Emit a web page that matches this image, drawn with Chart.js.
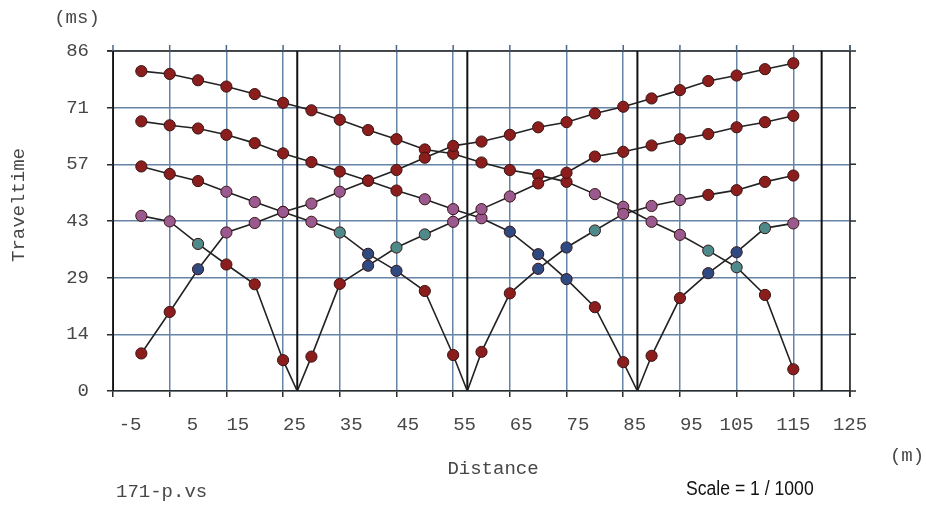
<!DOCTYPE html>
<html>
<head>
<meta charset="utf-8">
<title>171-p.vs traveltime curves</title>
<script src="https://cdn.jsdelivr.net/npm/chart.js@4.4.0/dist/chart.umd.min.js"></script>
<style>
  html, body { margin: 0; padding: 0; background: #ffffff; }
  canvas { display: block; }
</style>
</head>
<body>
<canvas id="chart" width="926" height="515"></canvas>
<script>
// Receiver offsets along the line (m)
const offsets = [0, 5, 10, 15, 20, 25, 30, 35, 40, 45, 50, 55, 60, 65, 70, 75, 80, 85, 90, 95, 100, 105, 110, 115];

// Shot positions (m)
const shotPositions = [-5, 27.5, 57.5, 87.5, 120];

// First-arrival traveltimes per shot (ms), one value per receiver
const timesShot1 = [9.5, 20.0, 30.8, 40.1, 42.5, 45.3, 47.4, 50.4, 53.2, 55.9, 59.0, 62.0, 63.1, 64.8, 66.7, 68.0, 70.2, 71.9, 74.0, 76.1, 78.4, 79.8, 81.4, 82.9];
const timesShot2 = [44.3, 42.9, 37.2, 32.0, 27.0, 7.8, 8.7, 27.1, 31.7, 36.3, 39.6, 42.8, 46.0, 49.2, 52.5, 55.2, 59.3, 60.5, 62.1, 63.7, 65.0, 66.7, 68.0, 69.6];
const timesShot3 = [56.8, 54.9, 53.1, 50.4, 47.8, 45.3, 42.8, 40.1, 34.7, 30.4, 25.3, 9.1, 9.9, 24.7, 30.9, 36.3, 40.6, 44.8, 46.8, 48.3, 49.6, 50.8, 52.9, 54.5];
const timesShot4 = [68.2, 67.2, 66.4, 64.8, 62.7, 60.1, 57.9, 55.5, 53.2, 50.7, 48.5, 46.0, 43.7, 40.3, 34.6, 28.3, 21.2, 7.3, 8.9, 23.5, 29.8, 35.1, 41.2, 42.4];
const timesShot5 = [80.9, 80.2, 78.6, 77.0, 75.1, 72.9, 71.0, 68.6, 66.0, 63.7, 61.1, 60.0, 57.8, 55.9, 54.6, 52.9, 49.8, 46.6, 42.8, 39.5, 35.5, 31.3, 24.3, 5.5];

// Refractor layer assigned to each arrival (0..3)
const layersShot1 = [0, 0, 3, 1, 1, 1, 1, 1, 0, 0, 0, 0, 0, 0, 0, 0, 0, 0, 0, 0, 0, 0, 0, 0];
const layersShot2 = [1, 1, 2, 0, 0, 0, 0, 0, 3, 2, 2, 1, 1, 1, 0, 0, 0, 0, 0, 0, 0, 0, 0, 0];
const layersShot3 = [0, 0, 0, 1, 1, 1, 1, 2, 3, 3, 0, 0, 0, 0, 3, 3, 2, 1, 1, 1, 0, 0, 0, 0];
const layersShot4 = [0, 0, 0, 0, 0, 0, 0, 0, 0, 0, 1, 1, 1, 3, 3, 3, 0, 0, 0, 0, 3, 3, 2, 1];
const layersShot5 = [0, 0, 0, 0, 0, 0, 0, 0, 0, 0, 0, 0, 0, 0, 0, 0, 1, 1, 1, 1, 2, 2, 0, 0];

// Axis ticks
const xTickValues = [-5, 5, 15, 25, 35, 45, 55, 65, 75, 85, 95, 105, 115, 125];
const xTickLabels = ['-5', '5', '15', '25', '35', '45', '55', '65', '75', '85', '95', '105', '115', '125'];
const yMax = 86;
const yTickLabels = ['0', '14', '29', '43', '57', '71', '86'];

const layerColors = ['#8c1d1d', '#9a5a8f', '#4e8a8a', '#2e4a80'];
const monoFont = '"Liberation Mono", "DejaVu Sans Mono", monospace';
const textGray = '#474747';

const allTimes = [timesShot1, timesShot2, timesShot3, timesShot4, timesShot5];
const allLayers = [layersShot1, layersShot2, layersShot3, layersShot4, layersShot5];

function buildCurve(k) {
  const pts = offsets.map((x, i) => ({ x: x, y: allTimes[k][i], layer: allLayers[k][i] }));
  const s = shotPositions[k];
  // shots inside the spread start the curve at zero time
  if (s > offsets[0] && s < offsets[offsets.length - 1]) {
    const idx = pts.findIndex(p => p.x > s);
    pts.splice(idx, 0, { x: s, y: 0, layer: null });
  }
  return pts;
}

const curveSets = shotPositions.map((s, k) => ({
  type: 'line',
  data: buildCurve(k),
  showLine: true,
  borderColor: '#222222',
  borderWidth: 1.6,
  tension: 0,
  pointRadius: c => (c.raw && c.raw.layer !== null ? 5.6 : 0),
  pointBackgroundColor: c => (c.raw && c.raw.layer !== null ? layerColors[c.raw.layer] : 'transparent'),
  pointBorderColor: '#3a1414',
  pointBorderWidth: 1,
  order: 1
}));

const shotMarkerSets = shotPositions.map(s => ({
  type: 'line',
  data: [{ x: s, y: 0 }, { x: s, y: yMax }],
  borderColor: '#111111',
  borderWidth: 2,
  pointRadius: 0,
  order: 5
}));

function padLabel(l) {
  if (l.length >= 3) return l;
  if (l.startsWith('-')) return '   ' + l;
  if (l.length === 1) return '    ' + l;
  return '  ' + l;
}

const framePlugin = {
  id: 'frame',
  beforeDatasetsDraw(chart) {
    const { ctx, chartArea: a, scales: { x, y } } = chart;
    ctx.save();
    ctx.strokeStyle = '#2b2b2b';
    ctx.lineWidth = 1.5;
    ctx.beginPath();
    ctx.moveTo(a.left - 6, a.top); ctx.lineTo(a.right + 6, a.top);
    ctx.moveTo(a.right, a.top - 6); ctx.lineTo(a.right, a.bottom + 6);
    ctx.moveTo(a.right, a.bottom); ctx.lineTo(a.right + 6, a.bottom);
    y.ticks.forEach(t => {
      const py = y.getPixelForValue(t.value);
      ctx.moveTo(a.right, py); ctx.lineTo(a.right + 6, py);
    });
    ctx.stroke();
    ctx.strokeStyle = '#4d6684';
    ctx.beginPath();
    x.ticks.forEach(t => {
      const px = x.getPixelForValue(t.value);
      ctx.moveTo(px, a.top - 6); ctx.lineTo(px, a.top);
    });
    ctx.stroke();
    ctx.restore();
  },
  afterDraw(chart) {
    const ctx = chart.ctx;
    ctx.save();
    ctx.fillStyle = textGray;
    ctx.font = '19px ' + monoFont;
    ctx.textBaseline = 'middle';
    ctx.textAlign = 'center';
    ctx.fillText('(ms)', 77, 18);
    ctx.fillText('Distance', 493, 469);
    ctx.fillText('(m)', 907, 456);
    ctx.textAlign = 'left';
    ctx.fillText('171-p.vs', 116, 492);
    ctx.save();
    ctx.translate(19, 205);
    ctx.rotate(-Math.PI / 2);
    ctx.textAlign = 'center';
    ctx.fillText('Traveltime', 0, 0);
    ctx.restore();
    // scale note in a condensed sans face
    ctx.fillStyle = '#111111';
    ctx.font = '20px "Liberation Sans Narrow", "Liberation Sans", Arial, sans-serif';
    ctx.textAlign = 'left';
    ctx.translate(686, 489);
    ctx.scale(0.88, 1);
    ctx.fillText('Scale = 1 / 1000', 0, 0);
    ctx.restore();
  }
};

new Chart(document.getElementById('chart'), {
  type: 'scatter',
  data: { datasets: [...curveSets, ...shotMarkerSets] },
  options: {
    responsive: false,
    animation: false,
    events: [],
    layout: { padding: { left: 0, top: 51, right: 76, bottom: 0 } },
    plugins: { legend: { display: false }, tooltip: { enabled: false } },
    scales: {
      x: {
        type: 'linear',
        min: xTickValues[0],
        max: xTickValues[xTickValues.length - 1],
        afterBuildTicks: s => { s.ticks = xTickValues.map(v => ({ value: v })); },
        afterFit: s => { s.height = 124; },
        grid: { color: '#6584a6', lineWidth: 1.5, tickLength: 6, tickColor: '#2b2b2b' },
        border: { color: '#2b2b2b', width: 1.5 },
        ticks: {
          autoSkip: false,
          maxRotation: 0,
          padding: 17,
          color: textGray,
          font: { family: monoFont, size: 19 },
          callback: (v, i) => padLabel(xTickLabels[i])
        }
      },
      y: {
        type: 'linear',
        min: 0,
        max: yMax,
        afterBuildTicks: s => { s.ticks = yTickLabels.map((l, i) => ({ value: yMax * i / (yTickLabels.length - 1) })); },
        afterFit: s => { s.width = 113; },
        grid: { color: '#6584a6', lineWidth: 1.5, tickLength: 6, tickColor: '#2b2b2b' },
        border: { color: '#2b2b2b', width: 1.5 },
        ticks: {
          autoSkip: false,
          padding: 18,
          color: textGray,
          font: { family: monoFont, size: 19 },
          callback: (v, i) => yTickLabels[i]
        }
      }
    }
  },
  plugins: [framePlugin]
});
</script>
</body>
</html>
